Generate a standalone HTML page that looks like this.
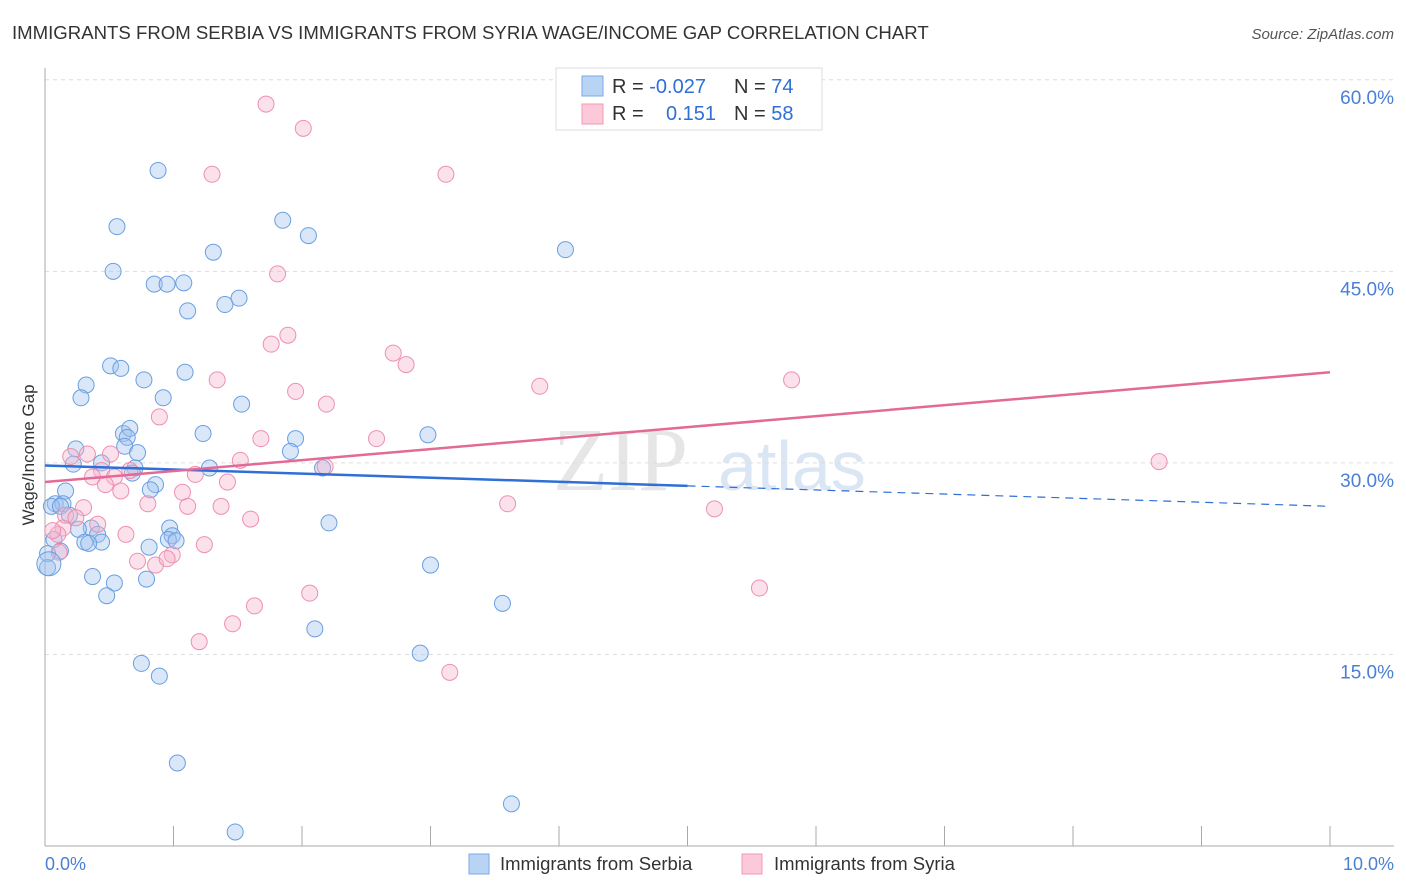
<!DOCTYPE html>
<html><head><meta charset="utf-8"><style>
body{margin:0;background:#fff;font-family:"Liberation Sans",sans-serif;}
svg{display:block}
</style></head><body>
<svg id="c" width="1406" height="892" xmlns="http://www.w3.org/2000/svg">
<text x="12" y="39" font-size="18.6" fill="#333">IMMIGRANTS FROM SERBIA VS IMMIGRANTS FROM SYRIA WAGE/INCOME GAP CORRELATION CHART</text>
<text x="1394" y="39" font-size="15" fill="#555" font-style="italic" text-anchor="end">Source: ZipAtlas.com</text>
<text x="553" y="490" font-size="90" fill="#e6e6e6" font-family="Liberation Serif,serif">ZIP</text>
<text x="718" y="490" font-size="70" fill="#dbe6f4">atlas</text>
<g id="grid"></g>
<g id="axes"></g>
<g id="pts"></g>
<g id="trend"></g>
<text transform="translate(34,455) rotate(-90)" font-size="17" fill="#333" text-anchor="middle">Wage/Income Gap</text>
<text x="45" y="870" font-size="18" fill="#4a7fd4">0.0%</text>
<text x="1394" y="870" font-size="18" fill="#4a7fd4" text-anchor="end">10.0%</text>
<g>
<rect x="556" y="68" width="266" height="62" fill="#fff" stroke="#ddd"/>
<rect x="582" y="76" width="21" height="20" fill="#b9d3f5" stroke="#7aa8e6"/>
<rect x="582" y="104" width="21" height="20" fill="#fbc9d8" stroke="#f19ab7"/>
<text x="612" y="93" font-size="20" fill="#333">R = <tspan fill="#2f6fd6">-0.027</tspan></text>
<text x="734" y="93" font-size="20" fill="#333">N = <tspan fill="#2f6fd6">74</tspan></text>
<text x="612" y="120" font-size="20" fill="#333">R = </text>
<text x="716" y="120" font-size="20" fill="#2f6fd6" text-anchor="end">0.151</text>
<text x="734" y="120" font-size="20" fill="#333">N = <tspan fill="#2f6fd6">58</tspan></text>
</g>
<g><rect x="469" y="854" width="20" height="20" fill="#b9d3f5" stroke="#7aa8e6"/><text x="500" y="870" font-size="18.5" fill="#333">Immigrants from Serbia</text></g>
<g><rect x="742" y="854" width="20" height="20" fill="#fbc9d8" stroke="#f19ab7"/><text x="774" y="870" font-size="18.5" fill="#333">Immigrants from Syria</text></g>
</svg>
<script>
const yTicks=[15,30,45,60];
const xTicks=[0,1,2,3,4,5,6,7,8,9,10];
const serbiaX=[0.88,0.56,1.85,2.05,1.31,4.05,0.53,0.85,0.95,1.08,1.51,1.4,1.11,0.51,0.59,0.32,0.77,1.09,0.28,0.92,1.53,0.24,0.61,0.66,0.64,0.62,0.72,1.23,1.95,1.91,2.98,0.22,0.44,0.7,0.68,1.28,2.16,0.86,0.82,0.16,0.08,0.14,0.05,0.12,0.19,0.36,0.26,0.41,0.44,0.97,2.21,0.99,0.96,0.31,0.34,0.07,0.12,0.81,1.02,0.02,0.02,3.0,0.37,0.54,0.79,0.48,3.56,2.1,0.75,0.89,2.92,1.03,3.63,1.48];
const serbiaY=[52.9,48.5,49.0,47.8,46.5,46.7,45.0,44.0,44.0,44.1,42.9,42.4,41.9,37.6,37.4,36.1,36.5,37.1,35.1,35.1,34.6,31.1,32.3,32.7,32.0,31.3,30.8,32.3,31.9,30.9,32.2,29.9,30.0,29.6,29.2,29.6,29.6,28.3,27.9,27.8,26.8,26.8,26.6,26.6,25.9,24.9,24.8,24.4,23.8,24.9,25.3,24.3,24.0,23.8,23.7,24.0,23.1,23.4,23.9,22.9,21.8,22.0,21.1,20.6,20.9,19.6,19.0,17.0,14.3,13.3,15.1,6.5,3.3,1.1];
const syriaX=[1.72,2.01,1.3,3.12,1.81,1.89,1.76,2.71,2.81,1.34,1.95,2.19,3.85,5.81,0.89,1.68,2.58,0.2,0.33,0.51,1.52,2.18,8.67,0.44,0.37,0.54,0.66,1.17,1.42,1.07,0.47,0.59,0.8,1.11,1.37,0.3,0.16,0.24,0.41,0.14,0.1,3.6,5.21,1.6,0.63,0.99,1.24,0.72,0.86,0.95,0.11,1.63,2.06,5.56,1.46,1.2,3.15,0.06];
const syriaY=[58.1,56.2,52.6,52.6,44.8,40.0,39.3,38.6,37.7,36.5,35.6,34.6,36.0,36.5,33.6,31.9,31.9,30.5,30.7,30.7,30.2,29.7,30.1,29.4,28.9,28.9,29.4,29.1,28.5,27.7,28.3,27.8,26.8,26.6,26.6,26.5,25.9,25.7,25.2,24.9,24.4,26.8,26.4,25.6,24.4,22.8,23.6,22.3,22.0,22.5,23.0,18.8,19.8,20.2,17.4,16.0,13.6,24.7];
const serbiaTrend=[29.8,28.2,26.6];
const syriaTrend=[28.5,37.1];
const X=v=>45+v*128.5, Y=v=>846-v*12.77;
const NS="http://www.w3.org/2000/svg";
function mk(t,a,p){const e=document.createElementNS(NS,t);for(const k in a)e.setAttribute(k,a[k]);p.appendChild(e);return e;}
const grid=document.getElementById('grid'),axes=document.getElementById('axes'),pts=document.getElementById('pts'),tr=document.getElementById('trend');
yTicks.forEach(v=>{
 const l=mk('line',{x1:45,x2:1394,y1:Y(v),y2:Y(v),stroke:'#ddd','stroke-dasharray':'4,4'},grid);
 
 
 const t=mk('text',{x:1394,y:Y(v)+24,'font-size':19,fill:'#4a7fd4','text-anchor':'end'},axes);
 t.textContent=v.toFixed(1)+'%';
 
 
});
const ax=mk('line',{x1:45,x2:1394,y1:846,y2:846,stroke:'#aaa'},axes);


const ay=mk('line',{x1:45,x2:45,y1:68,y2:846,stroke:'#aaa'},axes);


xTicks.forEach(v=>{
 const t=mk('line',{x1:X(v),x2:X(v),y1:826,y2:846,stroke:'#aaa'},axes);
 
 
});
serbiaX.forEach((x,i)=>{
 const c=mk('circle',{cx:X(x),cy:Y(serbiaY[i]),r:8,fill:'rgba(160,196,240,0.4)',stroke:'#6a9fe0','stroke-width':1},pts);
 
 
});
syriaX.forEach((x,i)=>{
 const c=mk('circle',{cx:X(x),cy:Y(syriaY[i]),r:8,fill:'rgba(246,180,204,0.4)',stroke:'#ee90b0','stroke-width':1},pts);
 
 
});
const big=mk('circle',{cx:X(0.03),cy:Y(22.1),r:12,fill:'rgba(160,196,240,0.4)',stroke:'#6a9fe0'},pts);


const b1=mk('line',{x1:X(0),y1:Y(serbiaTrend[0]),x2:X(5),y2:Y(serbiaTrend[1]),stroke:'#2f6fd6','stroke-width':2.5},tr);


const b2=mk('line',{x1:X(5),y1:Y(serbiaTrend[1]),x2:X(10),y2:Y(serbiaTrend[2]),stroke:'#2f6fd6','stroke-width':1.2,'stroke-dasharray':'8,6'},tr);


const p1=mk('line',{x1:X(0),y1:Y(syriaTrend[0]),x2:X(10),y2:Y(syriaTrend[1]),stroke:'#e36a96','stroke-width':2.5},tr);


</script>
</body></html>
